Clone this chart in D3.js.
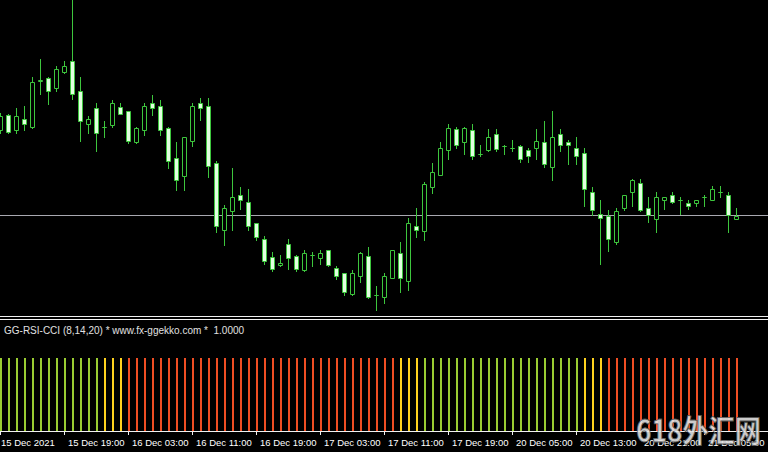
<!DOCTYPE html>
<html><head><meta charset="utf-8">
<script src="https://cdn.jsdelivr.net/npm/d3@7"></script>
<style>body{margin:0;background:#000;overflow:hidden}svg{display:block}</style>
</head><body>
<svg id="c" width="768" height="452"></svg>
<script>
// ---- data (hourly candles) ----
const open = [112.70,112.85,112.70,112.81,112.73,113.195,113.225,113.12,113.275,113.385,
113.095,112.76,112.915,112.73,112.755,112.93,112.885,112.575,112.70,112.965,
112.935,112.725,112.415,112.235,112.595,112.965,112.935,112.37,111.70,111.895,
112.045,111.98,111.765,111.61,111.43,111.345,111.555,111.445,111.295,111.45,
111.425,111.495,111.32,111.265,111.055,111.235,111.445,111.05,111.025,111.22,
111.475,111.185,111.735,111.685,112.125,112.255,112.495,112.71,112.575,112.705,
112.46,112.495,112.66,112.54,112.515,112.54,112.50,112.515,112.58,112.335,
112.66,112.58,112.515,112.465,112.075,111.865,111.845,111.575,111.915,112.08,
112.175,111.915,111.815,112.00,112.045,111.995,111.975,111.975,112.03,112.00,
112.075,112.045,111.815];
const high = [112.87,112.86,112.92,112.94,113.23,113.41,113.23,113.34,113.39,114.02,
113.23,112.84,112.97,112.79,113.00,112.97,112.89,112.73,112.97,113.05,
113.00,112.73,112.58,112.63,112.97,113.02,113.02,112.39,111.95,112.32,
112.13,112.11,111.77,111.64,111.48,111.45,111.61,111.45,111.50,111.48,
111.50,111.50,111.34,111.27,111.30,111.48,111.53,111.14,111.27,111.50,
111.58,111.82,111.92,112.18,112.37,112.58,112.76,112.73,112.73,112.76,
112.55,112.71,112.71,112.545,112.60,112.545,112.52,112.71,112.79,112.89,
112.71,112.60,112.63,112.52,112.13,112.00,111.90,111.92,112.05,112.21,
112.21,112.03,112.08,112.03,112.08,112.03,112.00,112.00,112.05,112.135,
112.135,112.08,111.92];
const low = [112.67,112.67,112.67,112.70,112.72,113.06,112.96,113.09,113.27,113.01,
112.59,112.67,112.49,112.63,112.73,112.855,112.57,112.57,112.65,112.85,
112.65,112.32,112.10,112.10,112.54,112.80,112.23,111.68,111.55,111.70,
111.91,111.70,111.60,111.36,111.29,111.34,111.31,111.29,111.29,111.34,
111.36,111.34,111.21,111.05,111.05,111.18,111.02,110.90,110.97,111.22,
111.08,111.10,111.63,111.60,112.07,112.25,112.41,112.52,112.46,112.41,
112.44,112.49,112.49,112.46,112.49,112.38,112.38,112.41,112.33,112.20,
112.49,112.36,112.36,111.94,111.85,111.36,111.49,111.56,111.90,111.94,
111.895,111.78,111.68,111.91,111.975,111.86,111.91,111.94,111.94,111.995,
112.03,111.68,111.81];
const close = [112.84,112.68,112.84,112.76,113.18,113.20,113.095,113.31,113.34,113.065,
112.79,112.81,112.675,112.73,112.965,112.86,112.595,112.725,112.94,112.915,
112.705,112.385,112.205,112.63,112.94,112.915,112.34,111.735,111.915,112.025,
112.00,111.735,111.63,111.395,111.315,111.37,111.425,111.315,111.475,111.45,
111.475,111.345,111.235,111.08,111.265,111.475,111.03,111.05,111.24,111.50,
111.22,111.765,111.705,112.155,112.285,112.515,112.725,112.545,112.725,112.445,
112.46,112.625,112.51,112.54,112.52,112.41,112.445,112.595,112.365,112.625,
112.55,112.545,112.445,112.11,111.90,111.82,111.61,111.895,112.045,112.205,
111.90,111.85,112.03,112.025,111.98,112.00,111.945,111.995,112.03,112.11,
112.08,111.85,111.845];
const levelLine = 111.85;
// GG-RSI-CCI signal state per bar: G = up, Y = neutral, R = down
const signal = ("GGGGGGGGGGGGG" + "YYY" +
  "RRRRRRRRRR" + "RRRRRRRRRR" + "RRRRRRRRRR" + "RRRR" +
  "YYY" + "GGGGGGGGGG" + "GGGGGGGGGG" + "YYY" +
  "RRRRRRRRRR" + "RRRRRRR").split("");
const histLevel = 1.0;
const indicatorLabel = "GG-RSI-CCI (8,14,20) * www.fx-ggekko.com *  1.0000";
const tickIdx = [0,8,16,24,32,40,48,56,64,72,80,88];
const tickLabels = ["15 Dec 2021","15 Dec 19:00","16 Dec 03:00","16 Dec 11:00","16 Dec 19:00","17 Dec 03:00",
  "17 Dec 11:00","17 Dec 19:00","20 Dec 05:00","20 Dec 13:00","20 Dec 21:00","21 Dec 05:00"];
const watermark = "618外汇网";

// ---- drawing ----
const svg = d3.select("#c");
svg.append("rect").attr("width",768).attr("height",452).attr("fill","#000");

const n = open.length;
const x = d3.scaleLinear().domain([0, n-1]).range([0, 8*(n-1)]);
const y = d3.scaleLinear().domain([114.00, 110.83]).range([0, 317]);
const yInd = d3.scaleLinear().domain([0, 1.5]).range([431, 321]);

const UP = "#3dc63d", BEARFILL = "#e2ffe0";

// horizontal level line
svg.append("line").attr("x1",0).attr("x2",768)
  .attr("y1", Math.floor(y(levelLine))+0.5).attr("y2", Math.floor(y(levelLine))+0.5)
  .attr("stroke","#a8a8b0").attr("stroke-width",1);

const main = svg.append("g");
const cg = main.selectAll("g.c").data(d3.range(n)).join("g").attr("class","c");
cg.append("line")
  .attr("x1", i => x(i)+0.5).attr("x2", i => x(i)+0.5)
  .attr("y1", i => Math.round(y(high[i]))).attr("y2", i => Math.round(y(low[i]))+1)
  .attr("stroke", UP).attr("stroke-width",1);
cg.append("path")
  .attr("d", i => {
    const t = Math.round(y(Math.max(open[i],close[i])))+0.5;
    const b = Math.round(y(Math.min(open[i],close[i])))+0.5;
    const cx = x(i)+0.5;
    return `M${cx-2},${t}H${cx+2}V${b}H${cx-2}Z`;
  })
  .attr("fill", i => open[i] > close[i] ? BEARFILL : "#000")
  .attr("stroke", UP).attr("stroke-width",1);

// window separator
svg.append("line").attr("x1",0).attr("x2",768).attr("y1",316.5).attr("y2",316.5).attr("stroke","#f0f0f0");
svg.append("line").attr("x1",0).attr("x2",768).attr("y1",319.5).attr("y2",319.5).attr("stroke","#f0f0f0");

// indicator histogram
const colors = {G:"#9acd32", Y:"#ffd21e", R:"#f04e23"};
svg.append("g").selectAll("rect").data(d3.range(n)).join("rect")
  .attr("x", i => x(i))
  .attr("width", 2)
  .attr("y", Math.round(yInd(histLevel)))
  .attr("height", yInd(0) - Math.round(yInd(histLevel)))
  .attr("fill", i => colors[signal[i]]);

svg.append("text").attr("x",4).attr("y",334)
  .attr("fill","#e0e0e0").attr("font-family","Liberation Sans, Arial, sans-serif")
  .attr("font-size","10px").style("white-space","pre").text(indicatorLabel);

// time axis
svg.append("line").attr("x1",0).attr("x2",768).attr("y1",431.5).attr("y2",431.5).attr("stroke","#f0f0f0");
const axis = d3.axisBottom(x).tickValues(tickIdx)
  .tickFormat((d,k) => tickLabels[k]).tickSizeInner(4).tickSizeOuter(0);
const ag = svg.append("g").attr("transform","translate(0,431)").call(axis);
ag.select(".domain").remove();
ag.selectAll(".tick line").attr("stroke","#f0f0f0");
ag.selectAll(".tick text")
  .attr("fill","#ffffff").attr("font-family","Liberation Sans, Arial, sans-serif")
  .attr("font-size","9.5px").attr("text-anchor","start")
  .attr("x",(d,k) => k === 0 ? 0.5 : 3.5).attr("y",14.5).attr("dy",0);

// watermark
svg.append("text").attr("x",636).attr("y",442)
  .attr("font-family","Noto Sans CJK SC, sans-serif").attr("font-weight","bold")
  .attr("font-size","31px").attr("fill","#e8e8e8").attr("fill-opacity",0.9)
  .attr("stroke","#555").attr("stroke-width",0.8)
  .attr("textLength",125).attr("lengthAdjust","spacingAndGlyphs")
  .text(watermark);
</script>
</body></html>
